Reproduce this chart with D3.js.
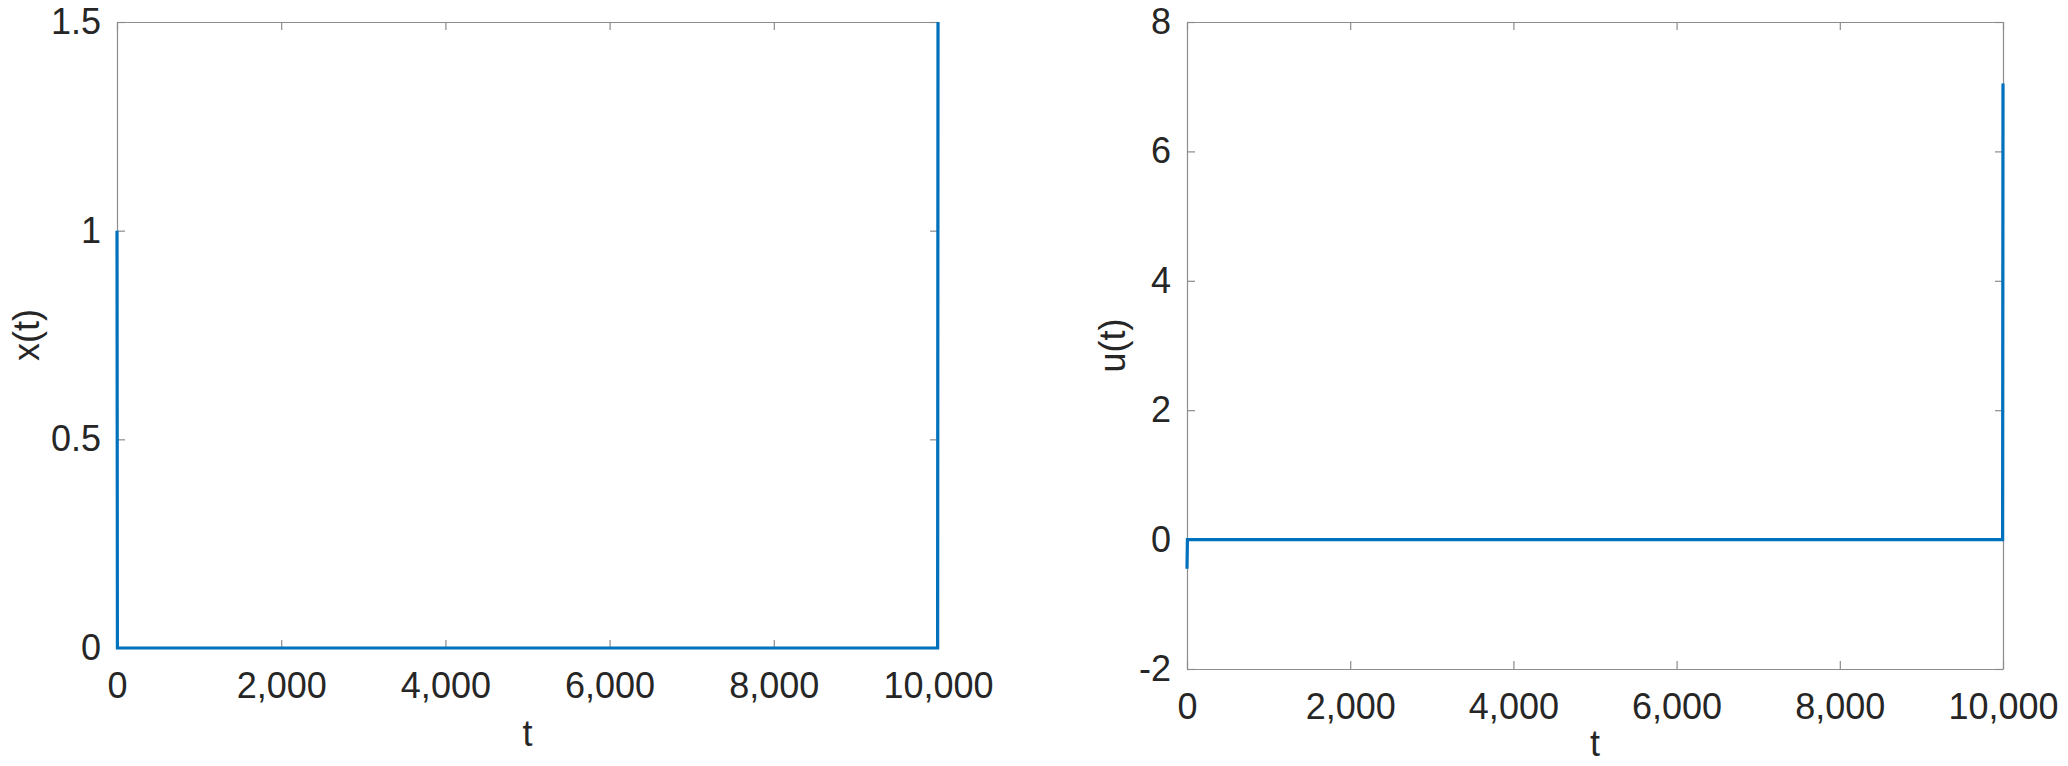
<!DOCTYPE html>
<html lang="en">
<head>
    <meta charset="UTF-8">
    <title>x(t) and u(t)</title>
    <script src="https://d3js.org/d3.v7.min.js"></script>
    <style>
        body { margin: 0; background: #fff; font-family: "Liberation Sans", Arial, sans-serif; }
        .tick text { fill: #262626; font-size: 36px; font-family: "Liberation Sans", Arial, sans-serif; }
        .tick line, .domain { stroke: #8c8c8c; stroke-width: 1.2; }
        .lbl { fill: #262626; font-size: 36px; }
    </style>
</head>
<body>
<svg id="chart" width="2068" height="766"></svg>

<script>
// data
const tX = [0, 5, 9995, 10000];
const xVals = [1, 0, 0, 1.5];
const tU = [0, 5, 9995, 10000];
const uVals = [-0.45, 0, 0, 7.05];

// tick labels
const tTicks = [0, 2000, 4000, 6000, 8000, 10000];
const xTicks = [0, 0.5, 1, 1.5];
const uTicks = [-2, 0, 2, 4, 6, 8];

const svg = d3.select("#chart");
const lineColor = "#0072BD";

function drawPanel(box, tv, yv, yDomain, yTicks, yLabel, tLabelY) {
    const x = d3.scaleLinear().domain([0, 10000]).range([box.left, box.right]);
    const y = d3.scaleLinear().domain(yDomain).range([box.bottom, box.top]);
    const g = svg.append("g");

    // mirrored axes on top and right, no labels
    g.append("g").attr("transform", `translate(0,${box.top})`)
        .call(d3.axisTop(x).tickValues(tTicks).tickFormat("").tickSizeInner(-8).tickSizeOuter(0));
    g.append("g").attr("transform", `translate(${box.right},0)`)
        .call(d3.axisRight(y).tickValues(yTicks).tickFormat("").tickSizeInner(-8).tickSizeOuter(0));

    g.append("g").attr("transform", `translate(0,${box.bottom})`)
        .call(d3.axisBottom(x).tickValues(tTicks).tickFormat(d3.format(","))
            .tickSizeInner(-8).tickSizeOuter(0).tickPadding(24));
    g.append("g").attr("transform", `translate(${box.left},0)`)
        .call(d3.axisLeft(y).tickValues(yTicks).tickFormat(d => String(d))
            .tickSizeInner(-8).tickSizeOuter(0).tickPadding(16));
    g.selectAll(".tick text").attr("font-size", null);

    const pts = tv.map((t, i) => [t, yv[i]]);
    g.append("path")
        .datum(pts)
        .attr("fill", "none")
        .attr("stroke", lineColor)
        .attr("stroke-width", 3.2)
        .attr("stroke-linejoin", "miter")
        .attr("d", d3.line().x(d => x(d[0])).y(d => y(d[1])));

    // axis labels
    g.append("text").attr("class", "lbl")
        .attr("x", (box.left + box.right) / 2).attr("y", tLabelY)
        .attr("text-anchor", "middle").text("t");
    g.append("text").attr("class", "lbl")
        .attr("transform", `translate(${box.yLabelX},${(box.top + box.bottom) / 2}) rotate(-90)`)
        .attr("text-anchor", "middle").text(yLabel);
}

drawPanel({ left: 117, right: 938, top: 22, bottom: 648, yLabelX: 39 },
    tX, xVals, [0, 1.5], xTicks, "x(t)", 746);
drawPanel({ left: 1187, right: 2003, top: 22, bottom: 669, yLabelX: 1125 },
    tU, uVals, [-2, 8], uTicks, "u(t)", 756);
</script>
</body>
</html>
